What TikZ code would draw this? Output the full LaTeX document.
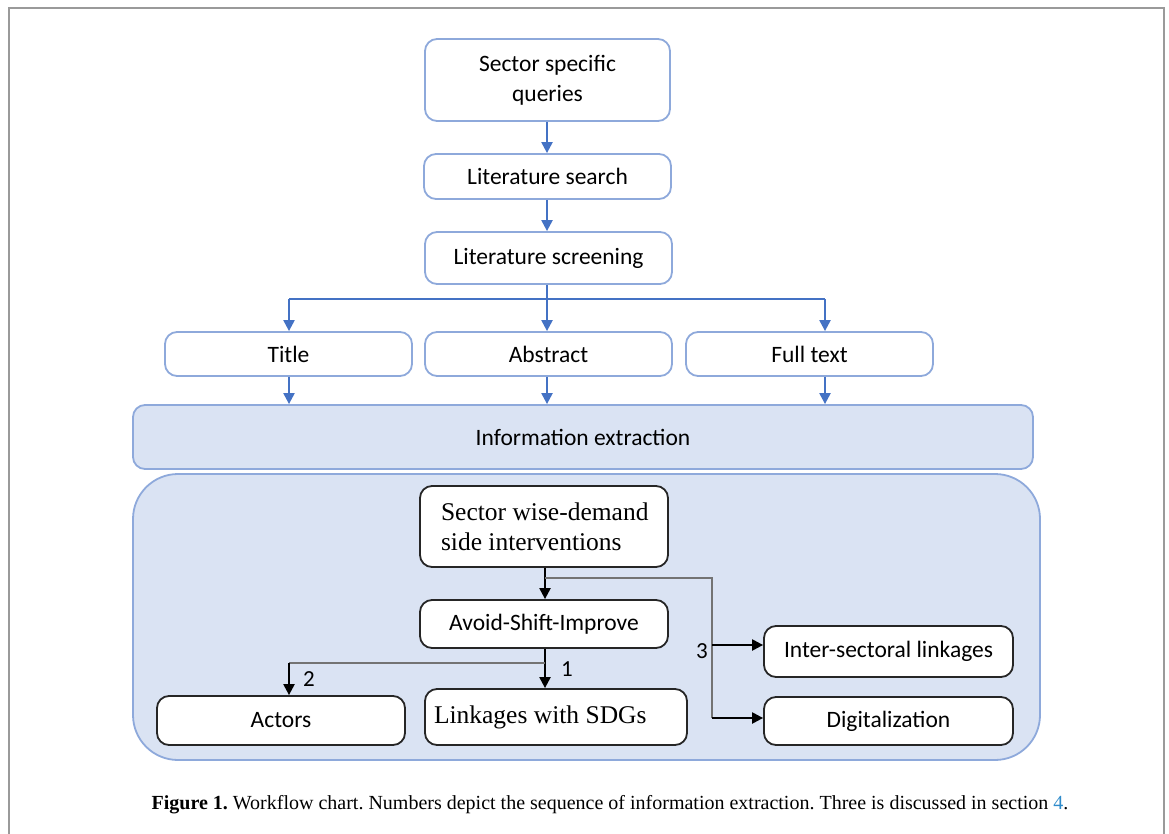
\documentclass[tikz,border=0pt]{standalone}
\usepackage{fontspec}
\setmainfont{Carlito}
\newfontfamily\serifcap{Liberation Serif}
\usetikzlibrary{arrows.meta,calc}
\definecolor{bordblue}{HTML}{8EA9DB}
\definecolor{fillblue}{HTML}{DAE3F3}
\definecolor{arrblue}{HTML}{4472C4}
\definecolor{linkblue}{HTML}{2E8BCB}
\definecolor{framegray}{HTML}{9A9A9A}
\begin{document}
\begin{tikzpicture}[x=1pt,y=-1pt,
  bluebox/.style={draw=bordblue,line width=1.8pt,fill=white,rounded corners=12pt,inner sep=0pt,align=center,font=\fontsize{23.5}{30}\selectfont},
  blackbox/.style={draw=black!85,line width=1.8pt,fill=white,rounded corners=12pt,inner sep=0pt,align=center,font=\fontsize{23.5}{30}\selectfont},
  serifbox/.style={blackbox,font=\serifcap\fontsize{25.5}{30}\selectfont},
  barrow/.style={draw=arrblue,line width=2.2pt,-{Triangle[length=11pt,width=11pt]}},
  bline/.style={draw=arrblue,line width=1.6pt},
  karrow/.style={draw=black,line width=2.2pt,-{Triangle[length=11pt,width=11pt]}},
  gline/.style={draw=black!55,line width=1.6pt},
  num/.style={font=\fontsize{23}{26}\selectfont}
]
\useasboundingbox (0,0) rectangle (1169,834);
\draw[framegray,line width=1.2pt] (9,834) -- (9,8) -- (1164,8) -- (1164,834);

% top flow
\node[bluebox,minimum width=245pt,minimum height=82pt] (q) at (547.5,80) {Sector specific\\queries};
\node[bluebox,minimum width=247pt,minimum height=45pt] (ls) at (547.5,176.5) {Literature search};
\node[bluebox,minimum width=247pt,minimum height=52pt] (lsc) at (548.5,258) {Literature screening};
\node[bluebox,minimum width=247pt,minimum height=44pt] (ti) at (288.5,354) {Title};
\node[bluebox,minimum width=247pt,minimum height=44pt] (ab) at (548.5,354) {Abstract};
\node[bluebox,minimum width=247pt,minimum height=44pt] (ft) at (809.5,354) {Full text};
\node[bluebox,fill=fillblue,minimum width=900pt,minimum height=64pt] (ie) at (583,437) {Information extraction};

\draw[barrow] (q.south -| 547,0) -- (ls.north -| 547,0);
\draw[barrow] (ls.south -| 547,0) -- (lsc.north -| 547,0);
\coordinate (sp) at (547,299);
\draw[bline] (lsc.south -| 547,0) -- (sp);
\draw[bline] (289,299) -- (825,299);
\draw[barrow] (sp) -- (ab.north -| 547,0);
\draw[barrow] (289,299) -- (ti.north -| 289,0);
\draw[barrow] (825,299) -- (ft.north -| 825,0);
\draw[barrow] (ti.south -| 289,0) -- (ie.north -| 289,0);
\draw[barrow] (ab.south -| 547,0) -- (ie.north -| 547,0);
\draw[barrow] (ft.south -| 825,0) -- (ie.north -| 825,0);

% container
\node[draw=bordblue,line width=1.8pt,fill=fillblue,rounded corners=45pt,minimum width=907pt,minimum height=286pt,inner sep=0pt] (cont) at (586.5,617) {};

\node[serifbox,minimum width=248pt,minimum height=81pt,align=flush left,text width=206pt,inner xsep=21pt] (swd) at (544,526.5) {\mbox{Sector wise-demand}\\side interventions};
\node[blackbox,minimum width=248pt,minimum height=48pt] (asi) at (544,624) {Avoid-Shift-Improve};
\node[blackbox,minimum width=249pt,minimum height=51pt] (isl) at (888.5,651.5) {Inter-sectoral linkages};
\node[blackbox,minimum width=249pt,minimum height=48pt] (dig) at (888.5,721) {Digitalization};
\node[serifbox,minimum width=262pt,minimum height=56pt,align=flush left,text width=244pt,inner xsep=9pt] (sdg) at (556,717) {Linkages with SDGs};
\node[blackbox,minimum width=248pt,minimum height=49pt] (act) at (281,720.5) {Actors};

\coordinate (b3) at (545,578);
\coordinate (c3) at (712,578);
\coordinate (i3) at (712,645);
\coordinate (d3) at (712,718);
\draw[karrow] (swd.south -| 545,0) -- (asi.north -| 545,0);
\draw[gline] (b3) -- (c3) -- (d3);
\draw[karrow] (i3) -- (i3 -| isl.west);
\draw[karrow] (d3) -- (d3 -| dig.west);

\coordinate (b2) at (545,663);
\coordinate (c2) at (289,663);
\draw[karrow] (asi.south -| 545,0) -- (sdg.north -| 545,0);
\draw[gline] (b2) -- (c2);
\draw[karrow] (c2) -- (act.north -| 289,0);

\node[num] (n1) at (567,669) {1};
\node[num] (n2) at (309,679) {2};
\node[num] (n3) at (702,651) {3};

\node[font=\serifcap\fontsize{20}{24}\selectfont] (cap) at (610,805) {\frenchspacing\textbf{Figure 1.} Workflow chart. Numbers depict the sequence of information extraction. Three is discussed in section \textcolor{linkblue}{4}.};
\end{tikzpicture}
\end{document}
